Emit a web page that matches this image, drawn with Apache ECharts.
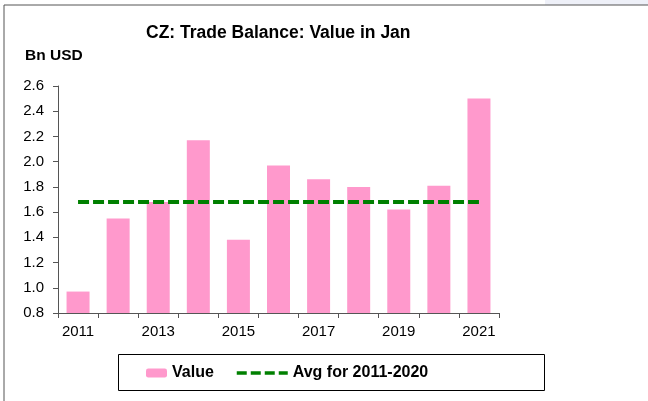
<!DOCTYPE html>
<html>
<head>
<meta charset="utf-8">
<script src="https://cdn.jsdelivr.net/npm/echarts@6/dist/echarts.min.js"></script>
<style>
  html, body { margin: 0; padding: 0; background: #fff; }
  #chart { width: 648px; height: 401px; }
</style>
</head>
<body>
<div id="chart"></div>
<script>
const years = ['2011', '2012', '2013', '2014', '2015', '2016', '2017', '2018', '2019', '2020', '2021']
const values = [0.97, 1.55, 1.68, 2.17, 1.38, 1.97, 1.86, 1.80, 1.62, 1.81, 2.50]
const avgValues = [1.68, 1.68, 1.68, 1.68, 1.68, 1.68, 1.68, 1.68, 1.68, 1.68, 1.68]
const yTicks = [0.8, 1.0, 1.2, 1.4, 1.6, 1.8, 2.0, 2.2, 2.4, 2.6]

const font = 'Liberation Sans, Arial, sans-serif'
const myChart = echarts.init(document.getElementById('chart'))

myChart.setOption({
  animation: false,
  textStyle: { fontFamily: font },
  title: {
    text: 'CZ: Trade Balance: Value in Jan',
    left: 146,
    top: 24,
    padding: 0,
    textStyle: { fontSize: 17.5, fontWeight: 'bold', color: '#000' }
  },
  grid: { left: 58, right: 149, top: 86, bottom: 88 },
  xAxis: {
    type: 'category',
    data: years,
    axisLine: { lineStyle: { color: '#555' } },
    axisTick: { show: true, interval: 0, length: 5, lineStyle: { color: '#555' } },
    axisLabel: { interval: 1, color: '#000', fontSize: 15, margin: 11 }
  },
  yAxis: {
    type: 'value',
    name: 'Bn USD',
    nameLocation: 'end',
    nameGap: 22,
    nameTextStyle: { align: 'left', padding: [0, 0, 0, -33], fontWeight: 'bold', fontSize: 15.5, color: '#000' },
    min: yTicks[0],
    max: yTicks[yTicks.length - 1],
    interval: 0.2,
    splitLine: { show: false },
    axisLine: { show: true, lineStyle: { color: '#555' } },
    axisTick: { show: true, length: 5, lineStyle: { color: '#555' } },
    axisLabel: { color: '#000', fontSize: 15, margin: 14, formatter: v => v.toFixed(1) }
  },
  legend: [
    {
      data: ['Value'],
      left: 146,
      top: 365,
      padding: 0,
      itemWidth: 21,
      itemHeight: 9,
      itemGap: 5,
      textStyle: { fontWeight: 'bold', fontSize: 16, color: '#000' }
    },
    {
      data: ['Avg for 2011-2020'],
      left: 235,
      top: 365,
      padding: 0,
      itemWidth: 51,
      itemHeight: 9,
      itemStyle: { opacity: 0 },
      lineStyle: { width: 3.5, type: [10, 4] },
      textStyle: { fontWeight: 'bold', fontSize: 16, color: '#000' }
    }
  ],
  graphic: [
    { type: 'rect', shape: { x: 545, y: 0, width: 103, height: 5 }, style: { fill: '#eef0f8' }, silent: true },
    { type: 'line', shape: { x1: 4, y1: 5, x2: 648, y2: 5 }, style: { stroke: '#555', lineWidth: 1 } },
    { type: 'line', shape: { x1: 4, y1: 5, x2: 4, y2: 401 }, style: { stroke: '#555', lineWidth: 1 } },
    { type: 'rect', shape: { x: 118.5, y: 354.5, width: 426, height: 36 }, style: { fill: 'none', stroke: '#000', lineWidth: 1 } }
  ],
  series: [
    {
      name: 'Value',
      type: 'bar',
      data: values,
      barWidth: 23,
      itemStyle: { color: '#ff99cc' }
    },
    {
      name: 'Avg for 2011-2020',
      type: 'line',
      data: avgValues,
      symbol: 'none',
      itemStyle: { color: '#008000' },
      lineStyle: { color: '#008000', width: 4, type: [11, 4] }
    }
  ]
})
</script>
</body>
</html>
